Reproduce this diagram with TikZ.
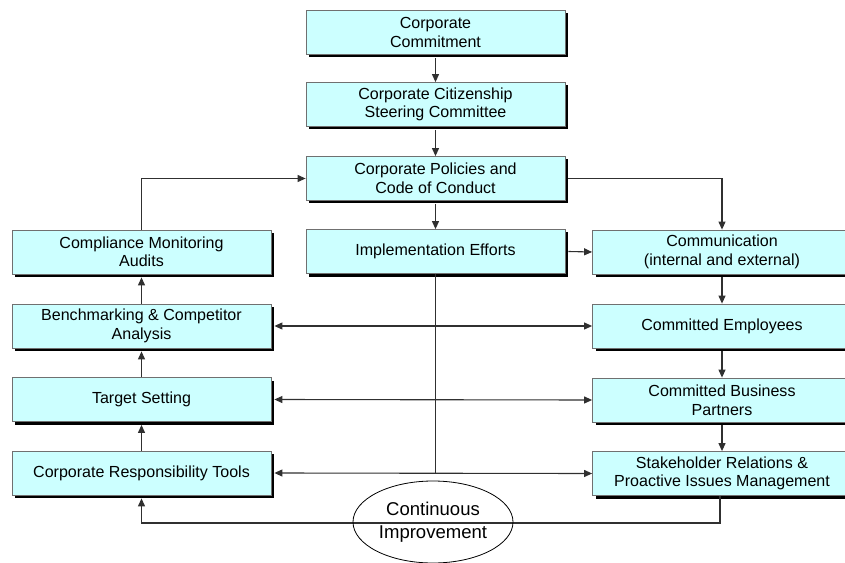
\documentclass[tikz,border=0pt]{standalone}
\usepackage{fontspec}
\setmainfont{Liberation Sans}
\usetikzlibrary{arrows.meta,shadows,shapes.geometric}
\definecolor{boxfill}{HTML}{CCFFFF}
\definecolor{boxline}{HTML}{707070}
\definecolor{conn}{HTML}{303030}
\tikzset{
  flowbox/.style={draw=boxline, line width=0.8bp, fill=boxfill, minimum width=259bp, minimum height=44bp,
    inner sep=0pt, align=center, font=\fontsize{16.1}{18.6}\selectfont,
    general shadow={fill=black, shadow xshift=3bp, shadow yshift=-3bp}},
  conline/.style={draw=conn, line width=1.1bp},
  arr/.style={conline, -{Triangle[length=8bp,width=7bp]}},
  darr/.style={conline, {Triangle[length=8bp,width=7bp]}-{Triangle[length=8bp,width=7bp]}},
}
\begin{document}
\begin{tikzpicture}[x=1bp,y=-1bp]
\useasboundingbox (0,0) rectangle (845,563);
% center column
\node[flowbox] (top) at (435.5,32.5) {Corporate\\Commitment};
\node[flowbox] (steer) at (435.5,104.5) {Corporate Citizenship\\Steering Committee};
\node[flowbox] (pol) at (435.5,178.5) {Corporate Policies and\\Code of Conduct};
\node[flowbox] (impl) at (435.5,251.5) {Implementation Efforts};
% left column
\node[flowbox] (comp) at (141.5,252) {Compliance Monitoring\\Audits};
\node[flowbox] (bench) at (141.5,326) {Benchmarking \& Competitor\\Analysis};
\node[flowbox] (target) at (141.5,399.5) {Target Setting};
\node[flowbox] (crt) at (141.5,473) {Corporate Responsibility Tools};
% right column
\node[flowbox] (comm) at (722,252) {Communication\\(internal and external)};
\node[flowbox] (emp) at (722,326) {Committed Employees};
\node[flowbox] (part) at (722,400) {Committed Business\\Partners};
\node[flowbox] (stake) at (722,473.5) {Stakeholder Relations \&\\Proactive Issues Management};

% center vertical arrows
\draw[arr] ([yshift=-3bp]top.south) -- (steer.north);
\draw[arr] ([yshift=-3bp]steer.south) -- (pol.north);
\draw[arr] ([yshift=-3bp]pol.south) -- (impl.north);
% left column upward arrows
\draw[arr] (bench.north) -- ([yshift=-3bp]comp.south);
\draw[arr] (target.north) -- ([yshift=-3bp]bench.south);
\draw[arr] (crt.north) -- ([yshift=-3bp]target.south);
% right column downward arrows
\draw[arr] ([yshift=-3bp]comm.south) -- (emp.north);
\draw[arr] ([yshift=-3bp]emp.south) -- (part.north);
\draw[arr] ([yshift=-3bp]part.south) -- (stake.north);
% feedback from compliance to policies
\draw[arr] (comp.north) |- (pol.west);
% policies to communication
\draw[arr] ([xshift=3bp]pol.east) -| (comm.north);
% implementation to communication
\draw[arr] ([xshift=3bp]impl.east) -- (comm.west);
% vertical line from implementation
\coordinate (implend) at (impl.south |- crt.east);
\draw[conline] (impl.south) -- (implend);
% double arrows
\draw[darr] ([xshift=3bp]bench.east) -- (emp.west);
\draw[darr] ([xshift=3bp]target.east) -- (part.west);
\draw[darr] ([xshift=3bp]crt.east) -- (stake.west);
% loop
\coordinate (loopr) at (720,523);
\coordinate (loopl) at (141.5,523);
\draw[arr] (stake.south -| loopr) -- (loopr) -- (loopl) -- ([yshift=-3bp]crt.south);
% ellipse
\node[draw=black, line width=0.8bp, ellipse, minimum width=160bp, minimum height=82bp, inner sep=0pt,
  align=center, font=\fontsize{18.6}{23.5}\selectfont] (ci) at (433,522) {Continuous\\Improvement};
\end{tikzpicture}
\end{document}
